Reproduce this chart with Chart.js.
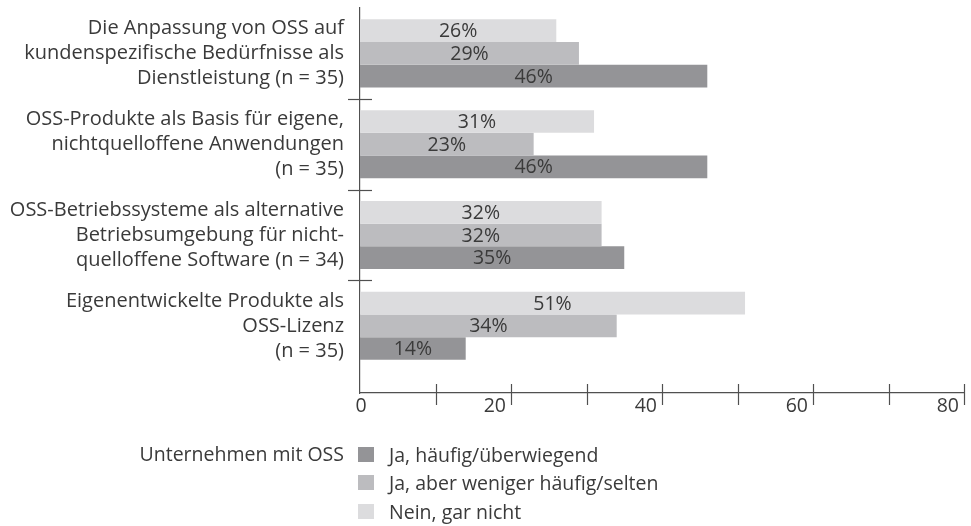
<!DOCTYPE html>
<html lang="de">
<head>
<meta charset="utf-8">
<script src="https://cdn.jsdelivr.net/npm/chart.js@4"></script>
<style>
  body { margin: 0; background: #fff; font-family: 'Open Sans', sans-serif; }
  #wrap { position: relative; width: 971px; height: 526px; }
  #legendTitle { position: absolute; right: 627px; top: 440px; font-size: 19.5px; color: #3a3a3a; line-height: 28px; }
  #legend { position: absolute; left: 358px; top: 440px; }
  .item { display: flex; align-items: center; height: 28.5px; font-size: 19.5px; color: #3a3a3a; }
  .box { width: 16px; height: 15px; margin-right: 15px; }
</style>
</head>
<body>
<div id="wrap">
  <canvas id="chart" width="971" height="526"></canvas>
  <div id="legendTitle">Unternehmen mit OSS</div>
  <div id="legend"></div>
</div>
<script>
const categories = [
  ['Die Anpassung von OSS auf', 'kundenspezifische Bedürfnisse als', 'Dienstleistung (n = 35)'],
  ['OSS-Produkte als Basis für eigene,', 'nichtquelloffene Anwendungen', '(n = 35)'],
  ['OSS-Betriebssysteme als alternative', 'Betriebsumgebung für nicht-', 'quelloffene Software (n = 34)'],
  ['Eigenentwickelte Produkte als', 'OSS-Lizenz', '(n = 35)']
]
const seriesNames = ['Nein, gar nicht', 'Ja, aber weniger häufig/selten', 'Ja, häufig/überwiegend']
const seriesColors = ['#dcdcde', '#bcbcbf', '#949497']
const neinValues = [26, 31, 32, 51]
const wenigerValues = [29, 23, 32, 34]
const haeufigValues = [46, 46, 35, 14]
const xTicks = [0, 10, 20, 30, 40, 50, 60, 70, 80]
const xLabels = [0, 20, 40, 60, 80]

const axisColor = '#505050'
const textColor = '#3a3a3a'
const fontSize = 20

function toPoints(values) {
  return values.map((v, i) => ({ x: v, y: i }))
}

// Trennstriche, Skalenstriche, Achsenbeschriftung und Balkenwerte
const extras = {
  id: 'extras',
  afterDraw(chart) {
    const ctx = chart.ctx
    const x = chart.scales.x
    const y = chart.scales.y
    const area = chart.chartArea
    ctx.save()
    ctx.strokeStyle = axisColor
    ctx.lineWidth = 1.2
    for (let i = 0; i < categories.length - 1; i++) {
      const py = Math.round(y.getPixelForValue(i + 0.5)) + 0.5
      ctx.beginPath()
      ctx.moveTo(area.left - 12, py)
      ctx.lineTo(area.left + 12, py)
      ctx.stroke()
    }
    xTicks.forEach(v => {
      if (v === 0) return
      const px = Math.round(x.getPixelForValue(v)) + 0.5
      ctx.beginPath()
      ctx.moveTo(px, area.bottom - 9)
      ctx.lineTo(px, area.bottom + 12)
      ctx.stroke()
    })
    ctx.fillStyle = textColor
    ctx.font = '19.5px "Open Sans"'
    ctx.textBaseline = 'top'
    xLabels.forEach(v => {
      const px = x.getPixelForValue(v)
      if (v === 0) {
        ctx.textAlign = 'center'
        ctx.fillText(String(v), px + 1, area.bottom + 4)
      } else {
        ctx.textAlign = 'right'
        ctx.fillText(String(v), px - 5, area.bottom + 4)
      }
    })
    ctx.textAlign = 'center'
    ctx.textBaseline = 'middle'
    chart.data.datasets.forEach((ds, di) => {
      chart.getDatasetMeta(di).data.forEach((bar, i) => {
        ctx.fillText(ds.data[i].x + '%', (bar.x + bar.base) / 2, bar.y + 1)
      })
    })
    ctx.restore()
  }
}

const chart = new Chart(document.getElementById('chart'), {
  type: 'bar',
  data: {
    datasets: [
      { label: seriesNames[0], data: toPoints(neinValues), backgroundColor: seriesColors[0] },
      { label: seriesNames[1], data: toPoints(wenigerValues), backgroundColor: seriesColors[1] },
      { label: seriesNames[2], data: toPoints(haeufigValues), backgroundColor: seriesColors[2] }
    ]
  },
  options: {
    indexAxis: 'y',
    responsive: false,
    animation: false,
    categoryPercentage: 0.75,
    barPercentage: 1,
    layout: { padding: { top: 8, right: 7, left: 0, bottom: 0 } },
    plugins: {
      legend: { display: false },
      tooltip: { enabled: false }
    },
    scales: {
      x: {
        type: 'linear',
        min: 0,
        max: 80,
        grid: { display: false },
        border: { display: true, color: axisColor, width: 1.2 },
        ticks: { display: false, stepSize: 10 },
        afterFit: s => { s.height = 133; s.paddingLeft = 0; s.paddingRight = 0 }
      },
      y: {
        type: 'linear',
        reverse: true,
        offset: false,
        bounds: 'data',
        min: -0.5,
        max: 3.74,
        grid: { display: false, drawTicks: false, offset: false },
        border: { display: true, color: axisColor, width: 1.2 },
        afterBuildTicks: s => { s.ticks = categories.map((c, i) => ({ value: i })) },
        afterFit: s => { s.width = 360; s.paddingTop = 0; s.paddingBottom = 0 },
        ticks: {
          padding: 16,
          color: textColor,
          font: { family: 'Open Sans', size: fontSize, lineHeight: 25 / fontSize },
          callback: v => categories[v]
        }
      }
    }
  },
  plugins: [extras]
})

// Legende in umgekehrter Reihenfolge
const legend = document.getElementById('legend')
chart.data.datasets.slice().reverse().forEach(ds => {
  const item = document.createElement('div')
  item.className = 'item'
  const box = document.createElement('span')
  box.className = 'box'
  box.style.background = ds.backgroundColor
  const label = document.createElement('span')
  label.textContent = ds.label
  item.appendChild(box)
  item.appendChild(label)
  legend.appendChild(item)
})
</script>
</body>
</html>
